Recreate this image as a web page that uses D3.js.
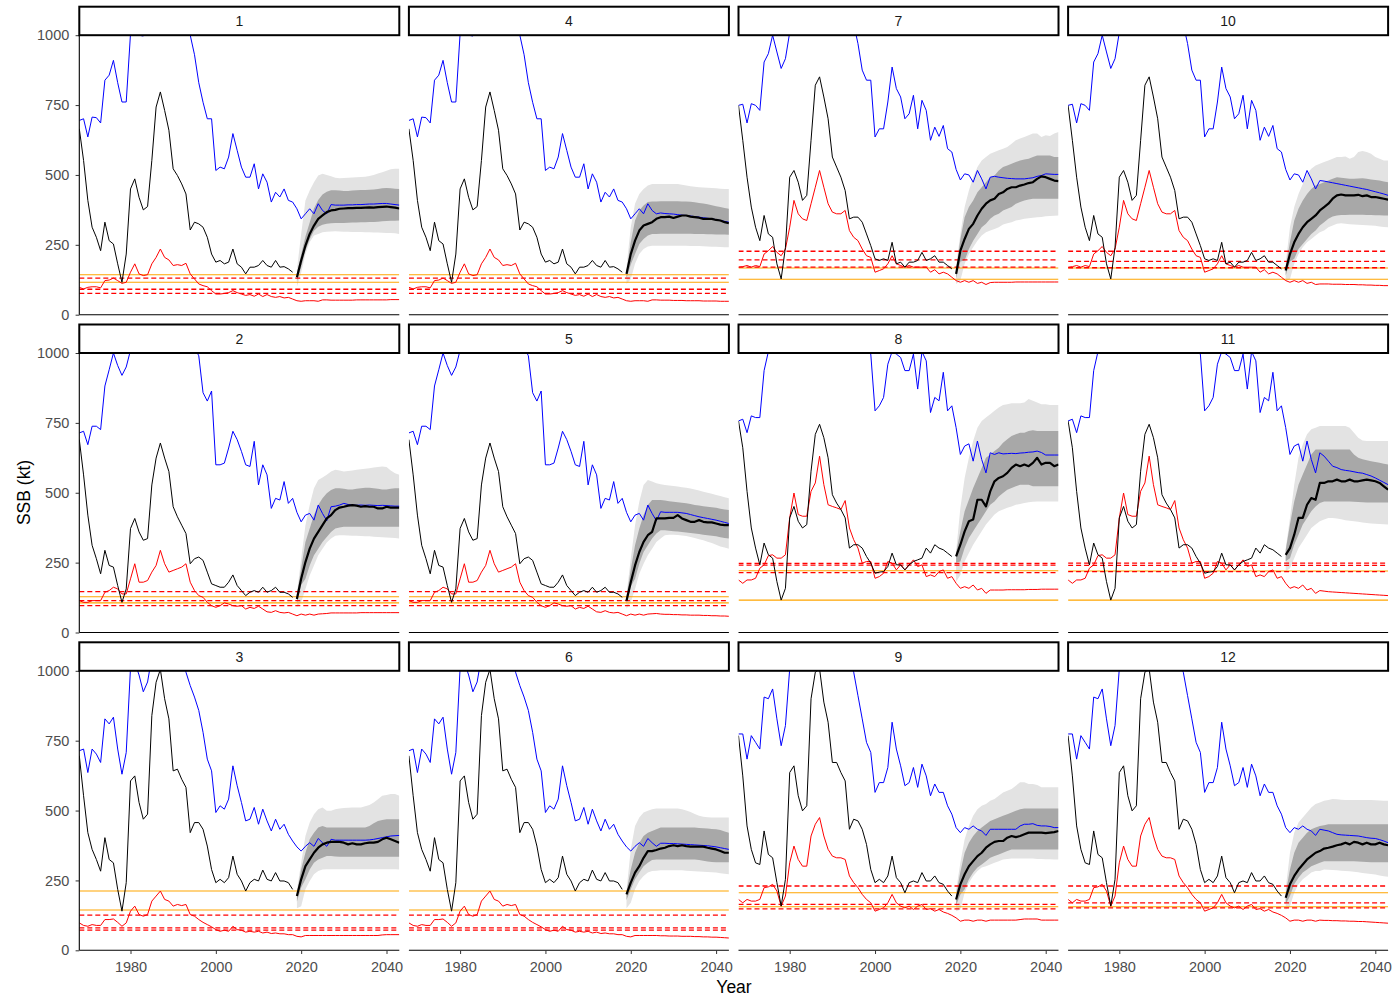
<!DOCTYPE html>
<html>
<head>
<meta charset="utf-8">
<script src="https://cdn.jsdelivr.net/npm/d3@7"></script>
<style>
  body { margin: 0; background: #fff; }
  svg { display: block; font-family: "Liberation Sans", Arial, sans-serif; }
</style>
</head>
<body>
<svg id="chart" width="1394" height="998"></svg>
<script>
// ---- categories and ticks ----
const years = d3.range(1968, 2044);      // full series span
const histYears = d3.range(1968, 2019);  // assessed SSB
const projYears = d3.range(2019, 2044);  // projection period
const panelIds = [1, 2, 3, 4, 5, 6, 7, 8, 9, 10, 11, 12];
const xTicks = [1980, 2000, 2020, 2040];
const yTicks = [0, 250, 500, 750, 1000];

// ---- historical series (shared by panel pairs) ----
// assessed SSB, 1968-2018
const ssbHist14 = [665,552,409,313,277,229,331,265,253,182, 116,217,450,486,420,375,387,552,743,797, 731,660,522,498,468,432,303,331,325,313, 277,217,188,194,182,188,235,182,170,146, 170,170,176,194,176,170,194,170,172,164, 152];
const ssbHist25 = [690,564,420,312,264,210,294,240,234,168, 108,156,372,408,360,330,336,528,624,678, 624,576,450,414,384,354,246,264,270,258, 216,174,168,162,162,180,206,168,150,132, 144,150,144,162,144,150,162,144,144,138, 126];
const ssbHist36 = [696,553,421,361,325,283,403,325,313,218, 140,242,606,624,529,469,487,840,959,1005, 900,828,642,648,612,583,421,457,457,433, 373,289,242,254,242,260,337,272,248,212, 242,254,248,287,254,248,278,248,248,242, 218];
const ssbHist710 = [749,624,492,385,313,265,355,289,277,182, 128,241,492,516,474,409,427,624,821,851, 779,701,564,528,492,444,343,349,349,331, 289,247,200,194,200,194,259,182,188,170, 188,188,194,223,194,200,211,188,188,176, 164];
const ssbHist811 = [757,661,505,374,302,242,320,278,266,182, 116,158,410,451,398,374,386,577,709,745, 697,625,493,463,440,410,302,314,314,302, 272,248,212,216,218,236,284,242,242,224, 242,254,260,266,302,284,314,302,296,284, 272];
const ssbHist912 = [768,624,445,361,313,307,427,343,331,242, 158,254,636,660,553,499,517,900,995,1007, 888,816,672,672,636,606,433,469,463,433, 379,289,242,254,242,266,337,260,242,206, 242,248,242,278,248,248,266,242,236,212, 194];

// blue series, 1968-2026
const blueHist14 = [695,701,636,707,705,686,839,857,910,830, 761,761,1005,1080,1000,997,1100,1250,1350,1400, 1350,1300,1250,1200,1150,1080,1000,930,830,760, 701,701,516,528,522,564,648,588,528,492, 492,540,450,504,474,403,438,421,450,409, 403,379,343,361,379,361,397,373,361];
const blueHist25 = [714,720,672,738,738,726,882,940,1000,955, 920,950,1010,1150,1250,1300,1350,1450,1550,1600, 1550,1450,1400,1350,1250,1150,1080,1020,990,858, 828,864,600,600,606,660,720,690,648,600, 594,684,528,600,564,444,480,474,540,462, 480,430,396,420,426,402,456,426,400];
const blueHist36 = [714,720,636,720,702,672,828,810,834,720, 630,708,1010,1030,985,925,960,1050,1150,1250, 1300,1250,1200,1150,1080,995,947,906,858,780, 684,642,493,517,505,541,660,589,529,463, 469,511,451,505,463,427,469,433,451,415, 391,370,355,372,385,372,400,385,372];
const blueHist710 = [749,753,686,755,749,731,904,934,1000,940, 881,916,1010,1100,1200,1300,1350,1400,1450,1500, 1450,1400,1350,1300,1250,1200,1150,1040,970,875, 839,839,636,665,665,761,886,809,779,701, 719,785,665,767,731,624,671,638,677,594, 582,520,482,504,500,474,516,486,450];
const blueHist811 = [757,763,715,775,769,769,937,1005,1100,1200, 1300,1350,1400,1450,1500,1550,1600,1600,1550,1500, 1450,1400,1350,1300,1250,1200,1150,1100,1050,1020, 1005,996,793,811,841,960,1005,996,984,937, 937,996,871,1005,972,787,841,829,931,793, 811,733,637,667,675,613,685,619,571];
const blueHist912 = [774,774,684,768,744,720,906,900,935,828, 732,804,1007,1100,1200,1300,1400,1450,1400,1350, 1300,1250,1200,1150,1100,1060,1030,995,911,828, 744,708,565,600,600,654,816,720,660,589, 600,654,583,666,624,553,595,565,565,517, 487,439,421,439,433,445,433,427,411];

// red series, 1968-2026
const redHist14 = [98,92,98,100,100,96,122,124,131,122, 112,116,152,182,146,140,143,182,205,235, 205,196,176,179,176,184,146,128,110,104, 100,86,74,74,76,79,86,79,74,69, 72,66,74,65,72,65,62,65,60,62, 56,50,48,50,50,50,48,53,53];
const redHist25 = [114,108,108,114,114,114,144,150,162,156, 138,138,192,246,180,180,186,216,240,294, 246,216,222,228,234,246,180,150,132,126, 108,96,90,96,106,102,96,94,96,84, 90,86,94,84,74,72,78,72,70,72, 66,60,66,62,66,62,66,67,68];
const redHist36 = [98,89,86,92,89,89,110,110,112,100, 86,98,140,158,128,122,128,176,194,212, 182,176,158,164,160,164,128,122,110,100, 92,84,74,68,72,68,86,74,72,65, 68,65,68,62,65,60,62,59,59,56, 56,50,48,53,53,53,53,53,53];
const redHist710 = [170,172,176,170,176,172,217,229,244,223, 211,235,313,409,361,343,337,397,456,516, 456,397,367,361,361,373,301,277,265,235, 211,205,152,158,164,182,211,182,176,170, 176,170,170,170,170,152,161,146,152,146, 134,122,116,122,116,122,112,116,108];
const redHist811 = [188,176,188,188,194,230,242,275,278,266, 266,278,410,499,422,416,416,505,535,631, 529,457,451,446,440,472,374,332,302,248, 254,254,194,200,212,254,248,224,242,224, 242,260,236,242,200,206,200,218,224,194, 200,176,158,164,158,170,152,158,140];
const redHist912 = [182,170,182,176,176,182,224,227,236,212, 158,194,313,373,325,301,301,409,451,475, 409,361,337,331,331,325,266,242,224,200, 182,170,140,146,152,170,200,170,158,152, 158,146,158,164,146,149,140,146,137,132, 125,116,104,108,108,104,108,108,104];

// which shared history each panel (1..12) uses
const histSetOfPanel = [0, 1, 2, 0, 1, 2, 3, 4, 5, 3, 4, 5];
const ssbSets = [ssbHist14, ssbHist25, ssbHist36, ssbHist710, ssbHist811, ssbHist912];
const blueSets = [blueHist14, blueHist25, blueHist36, blueHist710, blueHist811, blueHist912];
const redSets = [redHist14, redHist25, redHist36, redHist710, redHist811, redHist912];

// ---- per-panel continuations, 2027-2043 (rows = panels 1..12) ----
const blueTail = [
  [394,392,392,392,393,393,394,394,395,396,396,397,398,398,396,394,392],
  [450,452,456,462,458,456,455,456,455,456,455,454,455,454,453,452,452],
  [397,394,394,394,394,394,394,394,394,395,397,400,403,406,409,410,411],
  [364,362,361,360,358,356,355,353,351,349,347,345,343,340,337,334,331],
  [432,430,430,430,430,428,426,422,418,414,411,408,405,402,398,394,390],
  [383,383,382,382,381,380,379,378,377,376,375,374,372,370,367,364,361],
  [492,495,492,490,488,487,486,486,486,488,490,495,498,504,503,502,502],
  [643,637,643,639,640,641,640,642,643,645,646,649,644,635,635,635,635],
  [433,433,433,433,433,433,433,445,451,451,453,447,445,445,443,439,439],
  [480,478,475,472,469,466,463,460,457,454,451,448,444,440,436,432,427],
  [643,631,613,595,590,583,580,578,575,572,570,565,560,553,545,537,529],
  [433,430,427,421,415,413,412,411,410,409,406,403,401,400,396,391,385]
];
const redTail = [
  [52,52,52,52,52,52,53,53,53,53,53,53,53,53,54,54,54],
  [70,70,70,70,70,70,70,71,71,71,71,71,71,71,71,71,71],
  [53,53,53,53,53,53,53,53,53,53,53,53,55,56,56,56,56],
  [52,52,52,51,51,51,50,50,50,50,49,49,49,49,48,48,48],
  [66,65,65,64,64,63,63,62,62,62,61,61,60,60,59,59,58],
  [52,52,51,51,51,50,50,50,49,49,48,48,47,47,46,45,44],
  [115,116,116,116,116,116,117,117,117,117,117,117,117,117,117,117,117],
  [152,152,152,152,153,153,153,153,153,154,154,154,155,155,155,155,155],
  [108,108,108,108,108,108,108,110,112,112,112,112,108,108,108,108,108],
  [110,110,110,109,109,109,108,108,108,107,107,106,106,105,105,104,104],
  [150,148,146,145,144,143,142,141,140,139,138,137,136,135,134,133,132],
  [108,107,107,106,106,105,105,104,104,103,103,102,101,100,99,98,97]
];

// ---- projected SSB, 2019-2043 (rows = panels 1..12) ----
const projMedian = [
  [134,194,247,289,319,343,355,367,373,375,379,380,381,381,382,382,383,384,383,385,386,387,385,383,380],
  [120,192,252,300,336,360,384,408,420,438,447,450,454,456,454,450,452,450,450,444,444,450,447,447,447],
  [194,254,301,325,349,367,379,385,388,388,388,385,379,383,379,379,383,385,385,388,397,403,397,391,385],
  [146,217,265,301,319,325,331,343,349,349,351,346,351,355,355,351,349,347,343,343,343,339,337,331,327],
  [114,180,240,288,324,348,360,408,408,408,410,410,420,408,402,396,396,402,396,394,394,390,386,384,384],
  [200,242,278,301,331,355,355,359,364,367,373,376,373,376,373,371,371,371,371,367,364,361,355,349,349],
  [146,229,271,307,325,355,379,397,409,415,432,438,450,456,456,462,466,471,474,486,495,492,486,480,478],
  [272,314,362,398,404,475,475,451,505,541,553,559,571,589,601,595,601,595,607,625,601,607,607,595,601],
  [182,236,272,301,319,337,349,367,379,388,391,391,403,409,405,409,415,421,421,421,421,419,421,423,427],
  [158,217,259,289,313,331,343,355,373,385,397,415,427,430,427,427,427,429,424,427,421,421,418,415,412],
  [278,302,350,410,410,457,481,475,535,535,541,541,547,541,541,547,541,541,544,547,544,541,535,523,511],
  [188,236,266,289,307,325,337,349,355,364,367,371,376,379,385,379,388,385,379,385,379,379,385,379,376]
];
const projOuterLo = [
  [100,150,217,259,283,289,295,297,298,299,298,297,297,296,296,296,295,295,294,294,293,292,292,291,289],
  [90,108,156,204,240,276,300,322,336,346,348,348,347,346,346,345,344,344,343,342,341,340,339,338,336],
  [150,158,218,248,272,284,289,290,290,290,290,290,290,290,290,290,290,290,290,290,290,290,290,290,289],
  [110,128,182,217,235,244,247,247,247,247,247,247,247,247,247,246,246,246,245,244,243,243,242,241,241],
  [85,108,156,210,246,276,300,324,336,348,350,350,349,347,345,342,338,334,330,325,320,314,308,304,300],
  [150,170,218,248,266,278,284,285,286,286,286,286,286,286,285,284,283,282,281,280,279,278,276,274,272],
  [110,122,182,217,241,265,283,295,301,307,313,323,327,331,337,340,343,345,347,349,350,352,353,354,355],
  [182,206,254,284,314,338,362,386,404,422,434,440,446,451,457,460,463,466,468,469,469,469,469,469,469],
  [140,146,206,242,266,284,296,301,307,313,319,325,327,328,328,328,328,328,328,327,327,326,326,325,325],
  [120,128,182,217,241,259,271,283,295,301,313,319,325,327,325,324,323,322,321,320,319,318,316,314,313],
  [218,230,266,302,326,350,374,386,398,404,410,410,408,405,402,400,398,396,394,392,390,389,388,387,386],
  [145,158,206,236,254,266,278,284,284,289,288,287,286,285,284,283,281,279,277,275,273,271,268,265,263]
];
const projOuterHi = [
  [160,289,409,444,474,498,504,500,495,490,488,489,490,491,492,493,494,496,500,505,510,515,520,522,522],
  [140,264,384,456,516,546,555,564,576,582,580,576,578,580,582,584,586,588,590,592,594,592,580,570,564],
  [215,313,409,457,487,505,511,499,499,505,507,509,510,511,511,511,515,520,529,540,553,556,559,559,553],
  [170,313,397,432,450,462,468,468,468,468,468,468,468,465,462,460,458,456,455,454,453,452,451,450,450],
  [135,264,384,468,528,546,540,534,530,528,526,524,522,520,518,515,512,508,504,500,496,492,488,484,480],
  [215,361,445,475,493,499,505,507,507,507,507,507,507,505,500,495,488,481,478,476,475,475,475,475,475],
  [175,289,385,444,492,528,552,564,576,582,588,594,600,612,624,630,636,642,648,648,636,642,639,648,654],
  [290,445,553,625,685,733,757,769,781,793,805,814,817,820,820,820,823,835,829,823,817,817,814,814,814],
  [215,313,397,445,481,505,517,523,535,541,553,565,571,577,589,601,601,595,595,591,583,583,583,583,583],
  [185,313,385,432,468,504,522,534,540,546,552,558,564,564,566,558,564,582,586,582,576,564,558,552,552],
  [300,410,529,625,673,709,727,733,739,739,739,739,739,739,739,733,715,697,687,685,685,685,685,685,685],
  [220,349,421,457,475,493,511,523,529,535,538,541,540,539,538,538,538,538,538,538,538,537,536,535,535]
];
const projInnerLo = [
  [120,170,230,270,300,315,322,325,327,328,328,328,329,330,330,331,331,332,332,333,334,335,336,336,337],
  [105,170,192,240,276,300,324,342,360,372,376,378,378,378,378,378,378,378,378,378,378,378,378,378,378],
  [175,225,254,289,313,325,331,337,337,336,335,335,335,335,335,335,335,335,335,335,335,335,335,335,335],
  [130,180,217,253,271,283,289,289,290,290,290,290,290,290,290,290,289,289,289,288,288,287,287,287,286],
  [100,165,192,246,288,312,336,354,366,366,364,362,361,360,358,356,354,352,350,348,346,344,341,338,336],
  [180,218,254,278,301,313,323,325,325,325,325,325,325,325,325,325,325,323,320,318,316,315,315,315,315],
  [130,190,194,235,265,289,313,325,343,355,361,373,379,385,397,403,409,412,415,415,415,415,415,415,415],
  [250,254,302,338,362,386,410,434,457,469,487,499,511,517,523,529,529,529,523,523,523,523,523,523,523],
  [160,200,218,254,278,296,307,319,331,337,343,349,355,361,361,361,361,361,361,361,361,361,361,361,361],
  [140,190,200,235,253,271,289,301,319,331,343,351,355,357,357,358,358,358,358,357,357,356,356,355,355],
  [255,266,314,350,386,410,434,451,463,469,469,469,469,469,469,469,468,467,466,465,465,465,465,465,465],
  [165,194,236,260,278,289,301,307,313,319,319,319,319,319,319,319,319,318,317,316,315,315,315,315,315]
];
const projInnerHi = [
  [148,215,280,330,380,410,430,440,445,445,444,443,443,444,445,446,446,447,448,450,452,453,452,451,450],
  [135,230,324,372,420,456,480,498,510,516,516,514,512,512,514,516,518,518,516,514,512,512,514,516,516],
  [205,290,349,397,421,439,445,439,439,439,439,439,439,439,439,439,439,445,455,463,466,469,469,469,469],
  [155,260,337,373,391,403,405,405,406,406,406,406,406,405,405,404,402,400,398,395,392,388,385,382,379],
  [128,225,312,372,420,456,474,474,474,472,470,468,466,464,462,460,456,454,452,450,448,446,443,440,438],
  [210,289,349,385,409,421,427,433,439,439,439,439,439,439,439,439,439,438,437,436,434,433,430,425,421],
  [160,270,349,385,409,438,456,474,492,498,516,528,534,540,546,552,555,558,564,570,570,570,570,564,564],
  [285,362,434,475,517,553,589,625,637,649,661,679,691,703,709,715,715,721,724,721,721,721,721,721,721],
  [200,280,349,385,409,427,439,451,463,469,475,481,487,493,499,505,507,507,507,507,507,507,507,507,507],
  [172,260,337,379,409,432,450,462,468,474,480,486,492,490,488,486,486,487,488,486,484,482,480,477,474],
  [295,386,469,529,565,601,637,655,655,655,655,655,655,655,655,655,637,625,620,616,613,610,607,604,601],
  [205,289,349,385,403,421,433,439,445,447,451,451,451,451,451,451,451,451,451,451,451,451,451,451,451]
];

// ---- reference levels (rows = panels 1..12) ----
const orangeLevels = [
  [143,116],[128,106],[212,144],[143,116],[128,106],[212,144],
  [167,127],[221,116],[206,156],[167,127],[220,116],[206,156]
];
const dashedLevels = [
  [131,91,76],[146,114,96],[126,80,72],[131,91,76],[146,114,96],[126,80,72],
  [227,196,170],[247,241,214],[230,164,148],[227,191,168],[248,240,218],[230,170,152]
];

// ---- layout ----
const svg = d3.select("#chart");
const plotLeft = 79.3, colW = 320, colStep = 329.6;
const stripTop0 = 5.7, stripH = 29.5, panelH = 279.5, rowStep = 317.8;

const x = d3.scaleLinear().domain([1968, 2043]).range([0, colW]);
const y = d3.scaleLinear().domain([0, 1000]).range([panelH, 0]);

const lineOf = yrs => d3.line().x((d, i) => x(yrs[i])).y(d => y(d));
const bandOf = (lo, hi) => d3.area()
  .x((d, i) => x(projYears[i]))
  .y0((d, i) => y(lo[i]))
  .y1((d, i) => y(hi[i]));

const defs = svg.append("defs");

panelIds.forEach(id => {
  const k = id - 1;
  const col = Math.floor(k / 3), row = k % 3;
  const left = plotLeft + col * colStep;
  const sTop = stripTop0 + row * rowStep;
  const top = sTop + stripH;

  const set = histSetOfPanel[k];
  const ssb = ssbSets[set];
  const blue = blueSets[set].concat(blueTail[k]);
  const red = redSets[set].concat(redTail[k]);

  defs.append("clipPath").attr("id", "clip" + id)
    .append("rect").attr("x", 0).attr("y", 0).attr("width", colW).attr("height", panelH);

  const g = svg.append("g").attr("transform", `translate(${left},${top})`);
  const body = g.append("g").attr("clip-path", `url(#clip${id})`);

  // projection uncertainty bands
  body.append("path").datum(projMedian[k])
    .attr("d", bandOf(projOuterLo[k], projOuterHi[k]))
    .attr("fill", "#e3e3e3");
  body.append("path").datum(projMedian[k])
    .attr("d", bandOf(projInnerLo[k], projInnerHi[k]))
    .attr("fill", "#a8a8a8");

  // reference levels
  orangeLevels[k].forEach(v => {
    body.append("line").attr("x1", 0).attr("x2", colW)
      .attr("y1", y(v)).attr("y2", y(v))
      .attr("stroke", "#FFA500").attr("stroke-width", 1.1);
  });
  dashedLevels[k].forEach(v => {
    body.append("line").attr("x1", 0).attr("x2", colW)
      .attr("y1", y(v)).attr("y2", y(v))
      .attr("stroke", "#FF0000").attr("stroke-width", 1.3)
      .attr("stroke-dasharray", "5,3");
  });

  // series
  body.append("path").datum(red).attr("d", lineOf(years))
    .attr("fill", "none").attr("stroke", "#FF0000").attr("stroke-width", 1)
    .attr("stroke-linejoin", "round");
  body.append("path").datum(ssb).attr("d", lineOf(histYears))
    .attr("fill", "none").attr("stroke", "#000").attr("stroke-width", 1)
    .attr("stroke-linejoin", "round");
  body.append("path").datum(blue).attr("d", lineOf(years))
    .attr("fill", "none").attr("stroke", "#0000FF").attr("stroke-width", 1)
    .attr("stroke-linejoin", "round");
  body.append("path").datum(projMedian[k]).attr("d", lineOf(projYears))
    .attr("fill", "none").attr("stroke", "#000").attr("stroke-width", 2.2)
    .attr("stroke-linejoin", "round");

  // strip
  svg.append("rect")
    .attr("x", left).attr("y", sTop + 1)
    .attr("width", colW).attr("height", stripH - 1)
    .attr("fill", "#fff").attr("stroke", "#000").attr("stroke-width", 2);
  svg.append("text")
    .attr("x", left + colW / 2).attr("y", sTop + stripH / 2 + 1)
    .attr("text-anchor", "middle").attr("dominant-baseline", "central")
    .attr("font-size", 14).attr("fill", "#1a1a1a")
    .text(id);

  // bottom axis line on every panel
  g.append("line").attr("x1", 0).attr("x2", colW)
    .attr("y1", panelH).attr("y2", panelH)
    .attr("stroke", "#000").attr("stroke-width", 1.1);

  if (col === 0) {
    g.append("line").attr("x1", 0).attr("x2", 0)
      .attr("y1", 0).attr("y2", panelH)
      .attr("stroke", "#000").attr("stroke-width", 1.1);
    const ya = g.append("g")
      .call(d3.axisLeft(y).tickValues(yTicks).tickSize(3.7).tickPadding(6.3)
        .tickFormat(d3.format("d")));
    ya.select(".domain").remove();
    ya.selectAll(".tick line").attr("stroke", "#333");
    ya.selectAll(".tick text").attr("fill", "#4d4d4d")
      .attr("font-size", 14.5).attr("font-family", "Liberation Sans, Arial, sans-serif");
  }
  if (row === 2) {
    const xa = g.append("g").attr("transform", `translate(0,${panelH})`)
      .call(d3.axisBottom(x).tickValues(xTicks).tickSize(3.7).tickPadding(7.8)
        .tickFormat(d3.format("d")));
    xa.select(".domain").remove();
    xa.selectAll(".tick line").attr("stroke", "#333");
    xa.selectAll(".tick text").attr("fill", "#4d4d4d")
      .attr("font-size", 14.5).attr("font-family", "Liberation Sans, Arial, sans-serif");
  }
});

// axis titles
svg.append("text")
  .attr("x", 734).attr("y", 992.5)
  .attr("text-anchor", "middle").attr("font-size", 17.5).attr("fill", "#000")
  .text("Year");
svg.append("text")
  .attr("transform", "translate(29.5,492.5) rotate(-90)")
  .attr("text-anchor", "middle").attr("font-size", 17.5).attr("fill", "#000")
  .text("SSB (kt)");
</script>
</body>
</html>
